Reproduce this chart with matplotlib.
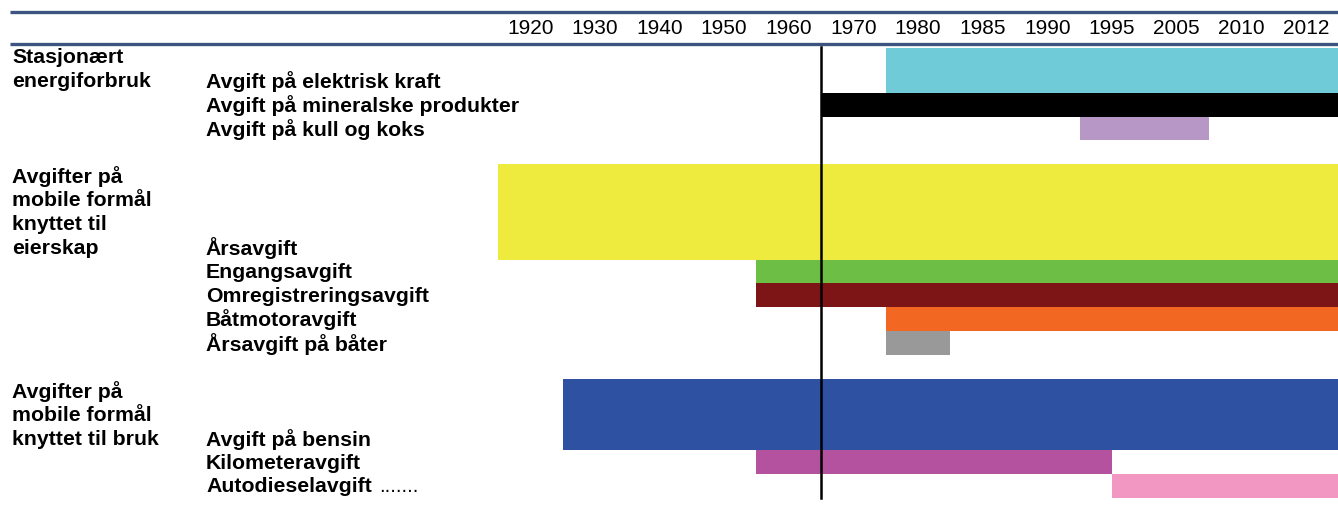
import matplotlib
matplotlib.use('Agg')
import matplotlib.pyplot as plt
from matplotlib.patches import Rectangle

plt.rcParams['font.family'] = ['Liberation Sans', 'DejaVu Sans']

# column headings (equal width columns)
years = ['1920', '1930', '1940', '1950', '1960', '1970', '1980',
         '1985', '1990', '1995', '2005', '2010', '2012']

# group labels: first row and lines
group_rows = [0, 5, 14]
group_texts = [['Stasjonært', 'energiforbruk'],
               ['Avgifter på', 'mobile formål', 'knyttet til', 'eierskap'],
               ['Avgifter på', 'mobile formål', 'knyttet til bruk']]

# tax items
item_names = ['Avgift på elektrisk kraft', 'Avgift på mineralske produkter',
              'Avgift på kull og koks', 'Årsavgift', 'Engangsavgift',
              'Omregistreringsavgift', 'Båtmotoravgift', 'Årsavgift på båter',
              'Avgift på bensin', 'Kilometeravgift', 'Autodieselavgift']
item_rows = [1, 2, 3, 8, 9, 10, 11, 12, 16, 17, 18]
bar_top = [0, 2, 3, 5, 9, 10, 11, 12, 14, 17, 18]
start_col = [6, 5, 9, 0, 4, 4, 6, 6, 1, 4, 9.5]
end_col = [13, 13, 11, 13, 13, 13, 13, 7, 13, 9.5, 13]
colors = ['#70CBD9', '#000000', '#B797C6', '#EEEB3E', '#6DBE45', '#7D1416',
          '#F26722', '#999999', '#2F51A2', '#B552A0', '#F297C1']

n_rows = 19
W, H = 1338, 517
fig = plt.figure(figsize=(W / 100, H / 100), dpi=100)
# axes area in pixels: x 498..1338, y 45..498
ax = fig.add_axes([498 / W, 1 - 498 / H, (1338 - 498) / W, (498 - 45) / H])
ax.set_xlim(0, 13)
ax.set_ylim(n_rows, 0)
ax.axis('off')

col_px = (1338 - 498) / 13
row_px = (498 - 45) / n_rows
fs = 15.3

for name, row, top, s, e, c in zip(item_names, item_rows, bar_top, start_col, end_col, colors):
    top_y = top + 0.12 if top == 0 else top
    ax.add_patch(Rectangle((s, top_y), e - s, row + 1 - top_y, facecolor=c,
                           edgecolor='none'))
    ax.text((206 - 498) / col_px, row + 0.45, name, ha='left', va='center_baseline',
            fontsize=fs, fontweight='bold', clip_on=False)

ax.text((379 - 498) / col_px, 18.45, '.......', ha='left', va='center_baseline',
        fontsize=14.5, clip_on=False)

for r, lines in zip(group_rows, group_texts):
    for k, t in enumerate(lines):
        ax.text((12 - 498) / col_px, r + k + 0.45, t, ha='left', va='center_baseline',
                fontsize=fs, fontweight='bold', clip_on=False)

# header
for i, y in enumerate(years):
    ax.text(i + 0.5, (29 - 45) / row_px, y, ha='center', va='center',
            fontsize=15, clip_on=False)
x0 = (10 - 498) / col_px
for ypx in (12.5, 44.5):
    ax.plot([x0, 13], [(ypx - 45) / row_px] * 2, color='#3E5480', lw=2.4,
            clip_on=False, solid_capstyle='butt')

# reference line at 1970
ax.plot([5, 5], [0.08, n_rows], color='black', lw=1.8, clip_on=False)

fig.savefig('out.png', dpi=100)
